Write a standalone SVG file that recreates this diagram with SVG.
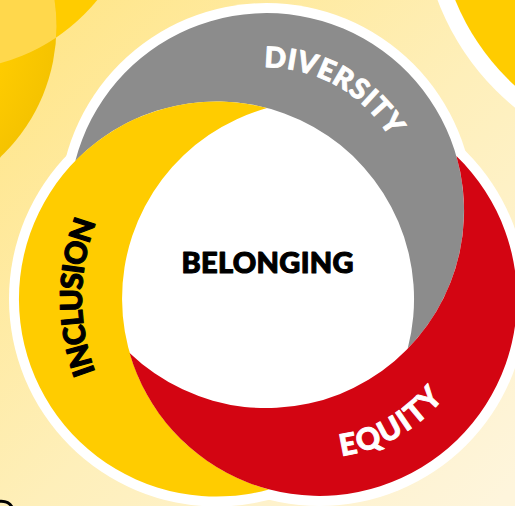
<svg xmlns="http://www.w3.org/2000/svg" width="515" height="506" viewBox="0 0 515 506">
<defs>
<linearGradient id="bg" gradientUnits="userSpaceOnUse" x1="40" y1="40" x2="500" y2="500">
<stop offset="0" stop-color="#FFE68C"/>
<stop offset="0.5" stop-color="#FEEFBA"/>
<stop offset="1" stop-color="#FEF5DC"/>
</linearGradient>
<radialGradient id="shade" gradientUnits="userSpaceOnUse" cx="-123.5" cy="26.5" r="180">
<stop offset="0.7" stop-color="#FFCC00"/>
<stop offset="1" stop-color="#F5C300"/>
</radialGradient>
<clipPath id="clipB"><circle cx="-123.5" cy="26.5" r="180"/></clipPath>
<path id="pDiv" d="M264 67.5A143 143 0 0 1 400.9 161.4"/>
<path id="pEq" d="M341.6 456A159 159 0 0 0 457.2 378"/>
<path id="pInc" d="M95.4 371.9A210 210 0 0 1 110.1 193"/>
</defs>
<style>
.halo{fill:#fff}
.lbl{font-family:"Lato","Open Sans",sans-serif;font-weight:900;font-size:29px;stroke-linejoin:round}
.w{fill:#fff;stroke:#fff;stroke-width:0.9px}
.k{fill:#000;stroke:#000;stroke-width:1.1px}
</style>
<rect width="515" height="506" fill="url(#bg)"/>
<circle cx="-50" cy="-120" r="190" fill="#FFCC00"/>
<circle cx="-123.5" cy="26.5" r="180" fill="url(#shade)"/>
<circle cx="-50" cy="-120" r="190" fill="#FFD84C" clip-path="url(#clipB)"/>
<circle cx="675.7" cy="-89.7" r="254.5" fill="#fff"/>
<circle cx="675.7" cy="-89.7" r="238" fill="#FFCC00"/>
<path d="M-2 501.5Q8 500 12 507" fill="none" stroke="#000" stroke-width="3"/>
<g id="halo">
<circle class="halo" cx="266.5" cy="210.5" r="207.5"/>
<circle class="halo" cx="216.5" cy="299" r="207.5"/>
<circle class="halo" cx="319.5" cy="298.5" r="207.5"/>
</g>
<g id="diversity">
<path d="M75.3 160.9A197.5 197.5 0 1 1 407.7 348.6A197.5 197.5 0 0 0 75.3 160.9Z" fill="#8C8C8C"/>
<text class="lbl w" style="font-size:28.5px"><textPath href="#pDiv" textLength="150" lengthAdjust="spacing">DIVERSITY</textPath></text>
</g>
<g id="inclusion">
<path d="M267.1 108.1A197.5 197.5 0 1 0 268.9 489.4A197.5 197.5 0 0 1 267.1 108.1Z" fill="#FFCC00"/>
<text class="lbl k" style="font-size:30px"><textPath href="#pInc" textLength="153" lengthAdjust="spacing">INCLUSION</textPath></text>
</g>
<g id="equity">
<path d="M456.4 156.1A197.5 197.5 0 1 1 129.6 352.9A197.5 197.5 0 0 0 456.4 156.1Z" fill="#D30512"/>
<text class="lbl w" style="font-size:30px"><textPath href="#pEq" textLength="120" lengthAdjust="spacing">EQUITY</textPath></text>
</g>
<g id="belonging">
<text class="lbl k" x="181.5" y="273" textLength="172" lengthAdjust="spacing">BELONGING</text>
</g>
<g id="connectors"/>
</svg>
